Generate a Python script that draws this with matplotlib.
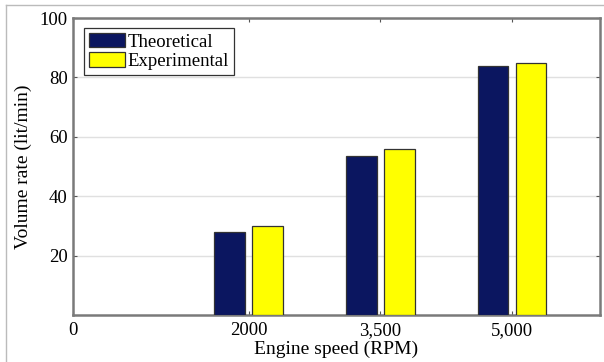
import matplotlib.pyplot as plt
from matplotlib.lines import Line2D
import numpy as np

speeds = [2000, 3500, 5000]
theoretical = [28, 53.5, 84]
experimental = [30, 56, 85]
xtick_pos = [0, 2000, 3500, 5000]
xtick_labels = ["0", "2000", "3,500", "5,000"]
yticks = [20, 40, 60, 80, 100]

plt.rcParams["font.family"] = ["Liberation Serif", "DejaVu Serif"]

fig = plt.figure(figsize=(6.04, 3.62), dpi=100)
ax = fig.add_axes([0.121, 0.130, 0.872, 0.820])

x = np.array(speeds)
width = 350
offset = 215
ax.bar(x - offset, theoretical, width, color="#0b1660", edgecolor="#333333",
       linewidth=0.9, label="Theoretical", zorder=3)
ax.bar(x + offset, experimental, width, color="#ffff00", edgecolor="#333333",
       linewidth=0.9, label="Experimental", zorder=3)

ax.set_xlim(0, 6000)
ax.set_ylim(0, 100)
ax.set_xticks(xtick_pos, xtick_labels)
ax.set_yticks(yticks)
ax.yaxis.grid(True, color="#e0e0e0", linewidth=1, zorder=0)
ax.tick_params(direction="in", top=True, right=True, length=3, width=0.8,
               color="#555555", labelsize=13.5, pad=4)
ax.tick_params(axis="x", pad=5)
for s in ax.spines.values():
    s.set_color("#7a7a7a")
    s.set_linewidth(1.8)

ax.set_xlabel("Engine speed (RPM)", fontsize=14, labelpad=1)
ax.set_ylabel("Volume rate (lit/min)", fontsize=14, labelpad=5)

leg = ax.legend(loc="upper left", bbox_to_anchor=(0.021, 0.966), fontsize=13.5,
                fancybox=False, edgecolor="#333333", framealpha=1,
                handlelength=1.92, handleheight=0.8, borderpad=0.25,
                labelspacing=0.1, handletextpad=0.15, borderaxespad=0)
leg.get_frame().set_linewidth(0.9)

# light outer frame lines (top and left)
fig.add_artist(Line2D([6 / 604, 1], [1 - 5 / 362, 1 - 5 / 362],
                      transform=fig.transFigure, color="#bbbbbb", linewidth=1))
fig.add_artist(Line2D([6 / 604, 6 / 604], [0, 1 - 5 / 362],
                      transform=fig.transFigure, color="#bbbbbb", linewidth=1))

fig.savefig("out.png", dpi=100)
